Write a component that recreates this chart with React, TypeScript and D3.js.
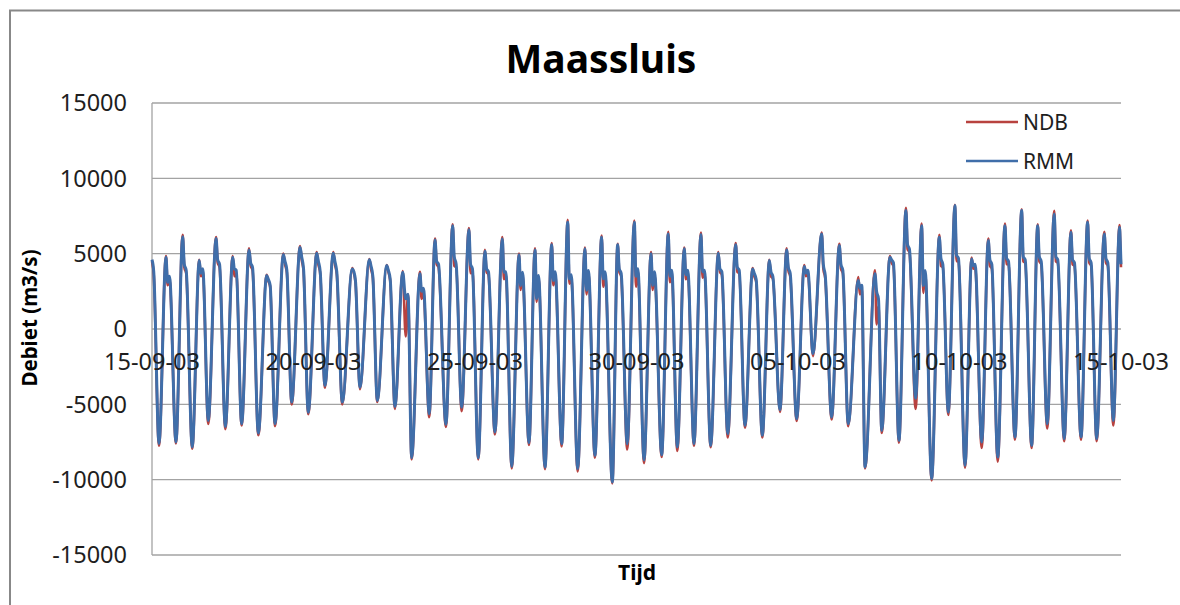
import React, { useEffect, useRef } from 'react'
import * as d3 from 'd3'

// Maassluis debiet, 15-09-2003 t/m 15-10-2003 (uren vanaf 15-09 00:00)
const startDate = new Date(2003, 8, 15)
const endDate = new Date(2003, 9, 15)
const yTicks = [-15000, -10000, -5000, 0, 5000, 10000, 15000]
const xTicks = [
  new Date(2003, 8, 15), new Date(2003, 8, 20), new Date(2003, 8, 25), new Date(2003, 8, 30),
  new Date(2003, 9, 5), new Date(2003, 9, 10), new Date(2003, 9, 15),
]
const seriesNames = ['NDB', 'RMM']

const startHours = [0, 1.3]
const startRmm = [4600, 3800]
const startNdb = [4500, 3600]

const troughHours = [5.2, 17.8, 29.9, 41.8, 54.5, 66.6, 79.0, 91.4, 103.8, 116.1, 128.5, 141.4, 154.5, 167.4, 180.5, 192.9, 206.0, 218.4, 230.1, 242.4, 254.8, 267.3, 280.1, 292.0, 304.4, 316.3, 329.1, 342.0, 353.1, 365.6, 378.7, 390.3, 402.7, 415.1, 427.8, 440.6, 453.5, 466.6, 479.0, 491.1, 505.0, 517.3, 529.8, 542.2, 555.0, 567.4, 579.3, 591.7, 604.1, 616.5, 628.4, 641.2, 653.6, 665.2, 677.8, 690.3, 701.9, 714.3]
const troughRmm = [-7600, -7500, -7840, -6070, -6470, -6290, -6910, -6290, -4850, -5520, -3750, -4850, -3860, -4740, -5140, -8540, -5620, -6330, -5190, -8550, -6840, -9120, -7550, -9160, -7610, -9270, -8390, -10160, -7610, -8690, -8340, -7840, -7610, -7730, -6950, -6400, -7060, -5360, -5960, -1630, -5850, -6290, -9160, -6730, -7390, -4600, -9930, -5520, -9050, -7500, -8500, -7170, -7730, -6290, -7280, -7170, -7280, -6070]
const troughNdb = [-7750, -7600, -7950, -6300, -6650, -6400, -7050, -6450, -5000, -5650, -3900, -5000, -4000, -4850, -5300, -8650, -5850, -6500, -5450, -8650, -7000, -9250, -7700, -9300, -7800, -9450, -8550, -10250, -8000, -8900, -8500, -8100, -7750, -7850, -7200, -6550, -7200, -5500, -6100, -1800, -6000, -6450, -9250, -6900, -7550, -5300, -10050, -5700, -9200, -7900, -8800, -7350, -7900, -6600, -7450, -7350, -7450, -6400]

const peakHours = [10.4, 22.8, 35.1, 47.6, 60.0, 72.1, 85.2, 97.6, 110.0, 122.4, 134.7, 148.8, 161.5, 174.4, 186.3, 199.1, 210.3, 223.4, 235.5, 247.4, 260.3, 272.7, 284.6, 297.0, 308.9, 321.7, 334.1, 346.0, 358.4, 370.8, 383.6, 395.5, 407.9, 420.8, 433.7, 446.3, 458.7, 471.6, 484.7, 497.6, 510.7, 524.8, 537.2, 548.3, 560.2, 571.9, 585.0, 596.6, 609.0, 621.4, 633.8, 646.2, 658.1, 670.4, 682.8, 695.2, 707.6, 718.9]
const peakRmm = [4760, 6130, 4540, 6000, 4760, 5250, 3550, 4940, 5420, 5030, 5030, 3990, 4590, 4210, 3770, 3660, 5910, 6860, 6580, 5160, 5980, 4920, 5250, 5600, 7080, 5320, 6090, 5600, 7080, 4990, 6310, 5320, 6270, 5030, 5600, 3990, 4540, 5250, 4150, 6310, 5540, 3220, 3660, 4760, 7860, 6860, 6090, 8190, 4650, 5870, 6860, 7860, 6860, 7640, 6420, 7080, 6310, 6750]
const peakNdb = [4850, 6250, 4600, 6100, 4850, 5350, 3600, 5000, 5500, 5100, 5100, 4050, 4650, 4250, 3850, 3800, 6000, 6950, 6700, 5250, 6100, 5000, 5350, 5700, 7250, 5400, 6200, 5650, 7200, 5100, 6450, 5400, 6400, 5100, 5700, 4050, 4600, 5350, 4250, 6400, 5650, 3450, 3900, 4850, 8050, 7000, 6250, 8250, 4750, 6000, 7000, 7950, 6950, 7850, 6550, 7200, 6450, 6900]

const dipHours = [11.6, 24.0, 36.3, 48.8, 61.2, 73.3, 86.4, 98.8, 111.2, 123.6, 135.9, 150.0, 162.7, 175.6, 188.5, 200.3, 211.5, 224.6, 236.7, 248.6, 261.5, 273.9, 285.8, 298.2, 310.1, 322.9, 335.3, 347.2, 359.6, 372.0, 384.8, 396.7, 409.1, 422.0, 434.9, 447.5, 459.9, 472.8, 485.9, 498.8, 511.9, 526.0, 538.4, 549.5, 561.4, 573.1, 586.2, 597.8, 610.2, 622.6, 635.0, 647.4, 659.3, 671.6, 684.0, 696.4, 708.8, 719.6]
const dipRmm = [3100, 4300, 3700, 4600, 4000, 4400, 3300, 4500, 4800, 4500, 4500, 3800, 4200, 3900, 2000, 2500, 4500, 4800, 4300, 4000, 3770, 2880, 2020, 3220, 3330, 2570, 3330, 4000, 3500, 2900, 3500, 3600, 3800, 4000, 4100, 3700, 3800, 4100, 3700, 4300, 4300, 2700, 2500, 4600, 5600, 2880, 4700, 4900, 4200, 4600, 4700, 4800, 4800, 4800, 4600, 4700, 4700, 5400]
const dipNdb = [2900, 4100, 3500, 4400, 3500, 4200, 3200, 4300, 4600, 4300, 4300, 3700, 4000, 3800, -500, 2000, 4300, 4200, 3700, 3800, 3300, 2600, 1800, 2900, 3000, 2300, 2800, 3800, 2800, 2600, 3100, 3300, 3400, 3800, 3800, 3500, 3500, 3900, 3500, 4000, 4000, 2300, 300, 4400, 5300, 2400, 4200, 4500, 4000, 4200, 4300, 4500, 4500, 4500, 4300, 4400, 4400, 5200]

const shoulderHours = [13.0, 25.4, 37.7, 50.2, 62.6, 74.7, 87.8, 100.2, 112.6, 125.0, 137.3, 151.2, 164.1, 177.0, 190.2, 201.7, 212.9, 226.0, 238.1, 250.0, 262.9, 275.3, 287.2, 299.6, 311.5, 324.3, 336.7, 348.6, 361.0, 373.4, 386.2, 398.1, 410.5, 423.4, 436.3, 448.9, 461.3, 474.2, 487.3, 500.2, 513.3, 527.4, 539.8, 550.9, 562.8, 574.5, 587.6, 599.2, 611.6, 624.0, 636.4, 648.8, 660.7, 673.0, 685.4, 697.8, 710.2, 720.0]
const shoulderRmm = [3500, 3900, 4000, 4300, 3900, 4100, 2900, 3900, 4000, 3800, 3800, 3200, 3500, 3300, 2300, 2700, 4300, 4300, 4000, 3800, 3800, 3770, 3550, 3800, 3600, 3880, 3800, 3700, 4000, 3800, 3900, 3900, 3900, 3800, 3900, 3300, 3500, 3700, 3900, 3600, 3900, 2900, 2000, 4400, 5300, 3880, 4300, 4700, 4300, 4300, 4500, 4600, 4500, 4600, 4400, 4400, 4400, 4300]
const shoulderNdb = [3300, 3700, 3850, 4100, 3700, 3900, 2800, 3750, 3850, 3650, 3650, 3100, 3400, 3200, 2300, 2400, 4100, 4100, 3800, 3600, 3600, 3600, 3400, 3600, 3400, 3700, 3600, 3500, 3800, 3600, 3700, 3700, 3700, 3600, 3700, 3150, 3350, 3500, 3750, 3400, 3700, 2700, 1500, 4200, 5100, 3700, 4100, 4500, 4100, 4000, 4300, 4400, 4300, 4400, 4200, 4200, 4200, 4100]

const buildSeries = (start: number[], trough: number[], peak: number[], dip: number[], shoulder: number[]) => {
  const pts: [number, number][] = startHours.map((h, i) => [h, start[i]])
  troughHours.forEach((h, i) => {
    pts.push([h, trough[i]])
    pts.push([peakHours[i], peak[i]])
    pts.push([dipHours[i], dip[i]])
    pts.push([shoulderHours[i], shoulder[i]])
  })
  pts.sort((a, b) => a[0] - b[0])
  return pts.map(([h, v]) => ({ date: new Date(startDate.getTime() + h * 3600e3), value: v }))
}

const ndb = buildSeries(startNdb, troughNdb, peakNdb, dipNdb, shoulderNdb)
const rmm = buildSeries(startRmm, troughRmm, peakRmm, dipRmm, shoulderRmm)

const App = () => {
  const svgRef = useRef<SVGSVGElement>(null)

  useEffect(() => {
    const width = 1180
    const height = 605
    const left = 152
    const right = 1121
    const top = 103
    const bottom = 555
    const font = "'Noto Sans', sans-serif"
    const gridColor = '#a3a3a3'

    const svg = d3.select(svgRef.current)
    svg.selectAll('*').remove()
    svg.attr('width', width).attr('height', height)

    const x = d3.scaleTime().domain([startDate, endDate]).range([left, right])
    const y = d3.scaleLinear().domain([-15000, 15000]).range([bottom, top])

    // outer chart frame (runs off the right and bottom edge)
    svg.append('rect')
      .attr('x', 10).attr('y', 10.5)
      .attr('width', 1300).attr('height', 800)
      .attr('fill', 'white')
      .attr('stroke', '#888').attr('stroke-width', 2)

    // gridlines + left axis line
    svg.append('g')
      .selectAll('line')
      .data(yTicks)
      .join('line')
      .attr('x1', left).attr('x2', right)
      .attr('y1', d => y(d)).attr('y2', d => y(d))
      .attr('stroke', gridColor).attr('stroke-width', 1.3)
    svg.append('line')
      .attr('x1', left).attr('x2', left)
      .attr('y1', top).attr('y2', bottom)
      .attr('stroke', gridColor).attr('stroke-width', 1.3)

    // y tick labels
    svg.append('g')
      .selectAll('text')
      .data(yTicks)
      .join('text')
      .attr('x', 127)
      .attr('y', d => y(d))
      .attr('dy', '0.36em')
      .attr('text-anchor', 'end')
      .attr('font-family', font).attr('font-size', 23.5)
      .attr('fill', '#1e1e1e')
      .text(d => String(d))

    // lines
    const line = d3.line<{ date: Date; value: number }>()
      .x(d => x(d.date))
      .y(d => y(d.value))
      .curve(d3.curveMonotoneX)

    svg.append('path')
      .attr('fill', 'none')
      .attr('stroke', '#b8423f')
      .attr('stroke-width', 2.6)
      .attr('stroke-linejoin', 'round')
      .attr('d', line(ndb))
    svg.append('path')
      .attr('fill', 'none')
      .attr('stroke', '#406ea9')
      .attr('stroke-width', 3)
      .attr('stroke-linejoin', 'round')
      .attr('d', line(rmm))

    // x tick labels, sitting under the zero line
    const fmt = d3.timeFormat('%d-%m-%y')
    svg.append('g')
      .selectAll('text')
      .data(xTicks)
      .join('text')
      .attr('x', d => x(d))
      .attr('y', 370)
      .attr('text-anchor', 'middle')
      .attr('font-family', font).attr('font-size', 23.5)
      .attr('fill', '#1e1e1e')
      .text(d => fmt(d))

    // legend
    const colors = ['#b8423f', '#406ea9']
    const legend = svg.append('g')
    seriesNames.forEach((name, i) => {
      const ly = 122 + i * 39
      legend.append('line')
        .attr('x1', 966).attr('x2', 1018)
        .attr('y1', ly).attr('y2', ly)
        .attr('stroke', colors[i]).attr('stroke-width', 2.6)
      legend.append('text')
        .attr('x', 1023).attr('y', ly)
        .attr('dy', '0.36em')
        .attr('font-family', font).attr('font-size', 21)
        .attr('fill', '#1e1e1e')
        .text(name)
    })

    // titles
    svg.append('text')
      .attr('x', 601).attr('y', 73)
      .attr('text-anchor', 'middle')
      .attr('font-family', font).attr('font-size', 39).attr('font-weight', 'bold')
      .text('Maassluis')
    svg.append('text')
      .attr('x', 637).attr('y', 580)
      .attr('text-anchor', 'middle')
      .attr('font-family', font).attr('font-size', 21).attr('font-weight', 'bold')
      .text('Tijd')
    svg.append('text')
      .attr('transform', 'translate(37,318) rotate(-90)')
      .attr('text-anchor', 'middle')
      .attr('font-family', font).attr('font-size', 20.5).attr('font-weight', 'bold')
      .text('Debiet (m3/s)')
  }, [])

  return (
    <svg ref={svgRef} style={{ position: 'absolute', left: 0, top: 0, background: 'white' }} />
  )
}

export default App
